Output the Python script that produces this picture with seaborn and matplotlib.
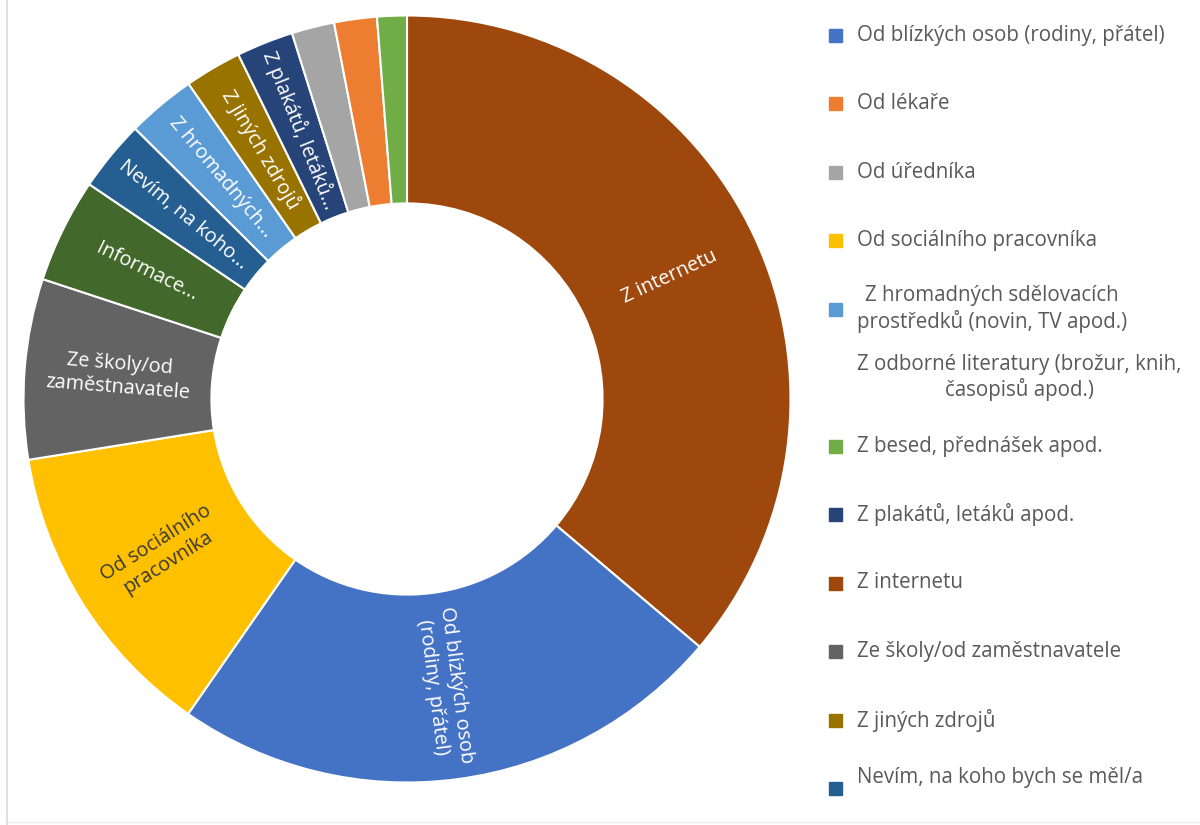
import numpy as np
import matplotlib
matplotlib.use('Agg')
import matplotlib.pyplot as plt
import seaborn as sns
from matplotlib.patches import Rectangle
from matplotlib.lines import Line2D

# Slices, clockwise from 12 o'clock (share in %)
slice_names = ['Z internetu', 'Od blízkých osob (rodiny, přátel)', 'Od sociálního pracovníka',
               'Ze školy/od zaměstnavatele', 'Informace', 'Nevím, na koho bych se měl/a',
               'Z hromadných sdělovacích prostředků', 'Z jiných zdrojů', 'Z plakátů, letáků apod.',
               'Od úředníka', 'Od lékaře', 'Z besed, přednášek apod.']
slice_values = [36.2, 23.5, 12.8, 7.6, 4.4, 3.0, 2.9, 2.4, 2.4, 1.8, 1.8, 1.25]
slice_colors = ['#9E480E', '#4472C4', '#FFC000', '#636363', '#43682B', '#255E91',
                '#5B9BD5', '#997300', '#264478', '#A5A5A5', '#ED7D31', '#70AD47']
slice_texts = ['Z internetu', 'Od blízkých osob\n(rodiny, přátel)', 'Od sociálního\npracovníka',
               'Ze školy/od\nzaměstnavatele', 'Informace...', 'Nevím, na koho...',
               'Z hromadných...', 'Z jiných zdrojů', 'Z plakátů, letáků...', '', '', '']
text_colors = ['white', 'white', '#3A3A3A', 'white', 'white', 'white',
               'white', 'white', 'white', 'white', 'white', 'white']

# Legend entries (as shown on the right)
legend_names = ['Od blízkých osob (rodiny, přátel)', 'Od lékaře', 'Od úředníka',
                'Od sociálního pracovníka', 'Z hromadných sdělovacích\nprostředků (novin, TV apod.)',
                'Z odborné literatury (brožur, knih,\nčasopisů apod.)', 'Z besed, přednášek apod.',
                'Z plakátů, letáků apod.', 'Z internetu', 'Ze školy/od zaměstnavatele',
                'Z jiných zdrojů', 'Nevím, na koho bych se měl/a']
legend_colors = ['#4472C4', '#ED7D31', '#A5A5A5', '#FFC000', '#5B9BD5', None, '#70AD47',
                 '#264478', '#9E480E', '#636363', '#997300', '#255E91']

sns.set_theme(style='white')
plt.rcParams['font.family'] = ['Open Sans', 'DejaVu Sans']

W, H = 1200, 825
fig = plt.figure(figsize=(W / 100, H / 100), dpi=100)
fig.patch.set_facecolor('white')

# Donut
cx, cy, R = 407, 399, 383.5
ax = fig.add_axes([(cx - R) / W, (H - cy - R) / H, 2 * R / W, 2 * R / H])
ring = 0.49
palette = sns.color_palette(slice_colors)
wedges, _ = ax.pie(slice_values, colors=palette, startangle=90, counterclock=False, radius=1,
                   wedgeprops=dict(width=ring, edgecolor='white', linewidth=1.5))
ax.set_xlim(-1, 1)
ax.set_ylim(-1, 1)

# Labels inside the slices, radial
r_mid = 1 - ring / 2
for w, txt, c in zip(wedges, slice_texts, text_colors):
    if not txt:
        continue
    mid = (w.theta1 + w.theta2) / 2
    x = r_mid * np.cos(np.radians(mid))
    y = r_mid * np.sin(np.radians(mid))
    rot = mid % 360
    if 90 < rot <= 270:
        rot -= 180
    elif rot > 270:
        rot -= 360
    ax.text(x, y, txt, rotation=rot, rotation_mode='anchor', ha='center', va='center',
            multialignment='center', color=c, fontsize=14.3, linespacing=1.2)

# Legend drawn on the right
for i, (name, col) in enumerate(zip(legend_names, legend_colors)):
    y_px = 35 + i * 68.5
    y = 1 - y_px / H
    if col is not None:
        fig.add_artist(Rectangle((829 / W, y - 6.5 / H), 13 / W, 13 / H, color=col,
                                 transform=fig.transFigure))
    ty = y + (11 / H if i == len(legend_names) - 1 else 0)
    fig.text(857 / W, ty, name, ha='left', va='center', multialignment='center',
             color='#595959', fontsize=14.8, linespacing=1.2)

# Faint chart frame
fig.add_artist(Line2D([7 / W, 7 / W], [0, 1], color='#D9D9D9', lw=1.2, transform=fig.transFigure))
fig.add_artist(Line2D([7 / W, 1], [3 / H, 3 / H], color='#EDEDED', lw=1.0, transform=fig.transFigure))

fig.savefig('out.png', dpi=100, facecolor='white')
